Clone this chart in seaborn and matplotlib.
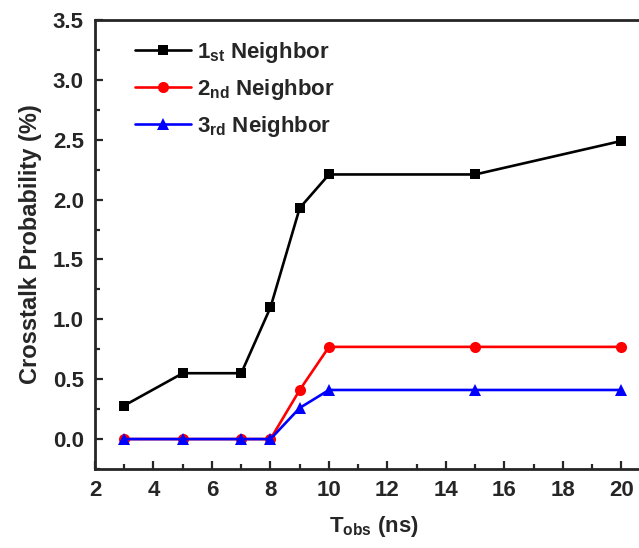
import numpy as np
import pandas as pd
import matplotlib
matplotlib.use("Agg")
import matplotlib.pyplot as plt
from matplotlib.ticker import MultipleLocator, FormatStrFormatter
import seaborn as sns

# data
t_obs = [3, 5, 7, 8, 9, 10, 15, 20]
first_neighbor = [0.28, 0.55, 0.55, 1.10, 1.93, 2.21, 2.21, 2.49]
second_neighbor = [0.0, 0.0, 0.0, 0.0, 0.41, 0.77, 0.77, 0.77]
third_neighbor = [0.0, 0.0, 0.0, 0.0, 0.26, 0.41, 0.41, 0.41]
labels = [r"1$_{st}$ Neighbor", r"2$_{nd}$ Neighbor", r"3$_{rd}$ Neighbor"]
colors = ["black", "red", "blue"]
markers = ["s", "o", "^"]
marker_sizes = [7, 8, 8.5]

sns.set_style("ticks")
plt.rcParams["font.family"] = ["Liberation Sans", "DejaVu Sans"]
plt.rcParams["font.weight"] = "bold"
plt.rcParams["mathtext.fontset"] = "custom"
plt.rcParams["mathtext.default"] = "bf"
plt.rcParams["mathtext.bf"] = "Liberation Sans:bold"
plt.rcParams["mathtext.rm"] = "Liberation Sans:bold"
plt.rcParams["mathtext.it"] = "Liberation Sans:bold"

df = pd.DataFrame({
    "t": t_obs * 3,
    "p": first_neighbor + second_neighbor + third_neighbor,
    "series": [labels[0]] * len(t_obs) + [labels[1]] * len(t_obs) + [labels[2]] * len(t_obs),
})

fig = plt.figure(figsize=(6.39, 5.48), dpi=100)
ax = fig.add_axes([95 / 639, 79 / 548, 544 / 639, 449 / 548])

for lab, col, mk, ms in zip(labels, colors, markers, marker_sizes):
    sub = df[df["series"] == lab]
    sns.lineplot(data=sub, x="t", y="p", ax=ax, color=col, marker=mk,
                 markersize=ms, linewidth=1.9, markeredgewidth=0,
                 label=lab, estimator=None)

ax.set_xlim(2, 20.6)
ax.set_ylim(-0.25, 3.5)
ax.xaxis.set_major_locator(MultipleLocator(2))
ax.xaxis.set_minor_locator(MultipleLocator(1))
ax.yaxis.set_major_locator(MultipleLocator(0.5))
ax.yaxis.set_minor_locator(MultipleLocator(0.25))
ax.yaxis.set_major_formatter(FormatStrFormatter("%.1f"))
ax.tick_params(which="major", direction="in", length=6, width=1.6, labelsize=16, pad=8)
ax.tick_params(which="minor", direction="in", length=3.5, width=1.6)
for lbl in ax.get_xticklabels() + ax.get_yticklabels():
    lbl.set_fontweight("bold")

for side in ["left", "bottom", "top"]:
    ax.spines[side].set_linewidth(2)
ax.spines["right"].set_visible(False)

ax.set_xlabel(r"T$_{obs}$ (ns)", fontsize=16, fontweight="bold")
ax.xaxis.set_label_coords(0.513, -0.1)
ax.set_ylabel("Crosstalk Probability (%)", fontsize=17, fontweight="bold", labelpad=8)

leg = ax.legend(loc="upper left", frameon=False, fontsize=16, handlelength=2.5,
                handletextpad=0.3, borderpad=0, borderaxespad=0,
                labelspacing=0.55, bbox_to_anchor=(0.0735, 0.956))

fig.savefig("out.png", dpi=100)
